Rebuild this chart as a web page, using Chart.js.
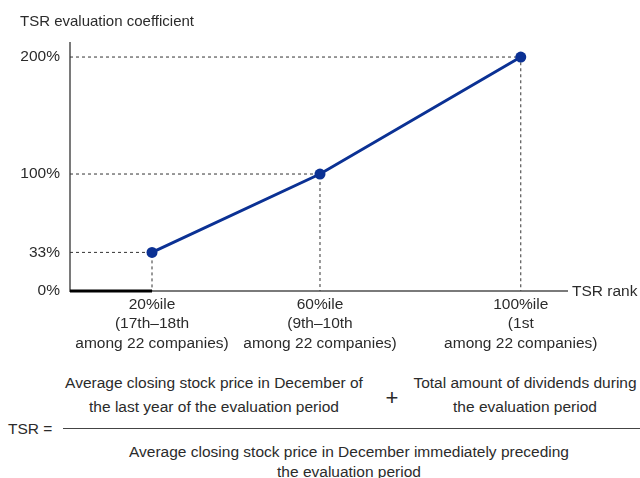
<!DOCTYPE html>
<html>
<head>
<meta charset="utf-8">
<script src="https://cdn.jsdelivr.net/npm/chart.js@4"></script>
<style>
  body { margin: 0; background: #fff; font-family: "Liberation Sans", Arial, sans-serif; color: #2b2b2b; }
  #wrap { position: relative; width: 640px; height: 478px; }
  #chartBox { position: absolute; left: 0; top: 0; width: 640px; height: 360px; }
  .txt { position: absolute; font-size: 15.5px; text-align: center; white-space: nowrap; }
  #tsrEq { left: 8px; top: 419px; line-height: 20px; text-align: left; }
  #fracLine { position: absolute; left: 63px; top: 428px; width: 577px; height: 1px; background: #444; }
  #numLeft { left: 44px; top: 371px; width: 340px; line-height: 24px; }
  #plus { left: 377px; top: 384px; width: 30px; font-size: 22px; line-height: 28px; }
  #numRight { left: 400px; top: 371px; width: 250px; line-height: 24px; }
  #denom { left: 99px; top: 442px; width: 500px; line-height: 20px; }
</style>
</head>
<body>
<div id="wrap">
  <div id="chartBox"><canvas id="myChart" width="640" height="360"></canvas></div>
  <div class="txt" id="numLeft">Average closing stock price in December of<br>the last year of the evaluation period</div>
  <div class="txt" id="plus">+</div>
  <div class="txt" id="numRight">Total amount of dividends during<br>the evaluation period</div>
  <div class="txt" id="tsrEq">TSR =</div>
  <div id="fracLine"></div>
  <div class="txt" id="denom">Average closing stock price in December immediately preceding<br>the evaluation period</div>
</div>
<script>
// TSR rank (percentile) and the evaluation coefficient it earns
let rankPct = [20, 60, 100];
let coefficient = [33, 100, 200];
let rankLabels = [
  ["20%ile", "(17th\u201318th", "among 22 companies)"],
  ["60%ile", "(9th\u201310th", "among 22 companies)"],
  ["100%ile", "(1st", "among 22 companies)"]
];
let yTicks = [0, 33, 100, 200];
// below the 20%ile the coefficient stays at zero
let zeroRank = [0, 20];
let zeroCoef = [0, 0];

let fontFamily = "'Liberation Sans', Arial, sans-serif";
let textColor = "#2b2b2b";
let lineBlue = "#0b3194";

// the rank axis is not evenly spaced, so map it piecewise
const rankStops = [[0, 0], [20, 0.165], [60, 0.503], [100, 0.907], [110, 1]];
function rankToDecimal(v) {
  for (let i = 1; i < rankStops.length; i++) {
    let a = rankStops[i - 1], b = rankStops[i];
    if (v <= b[0] || i === rankStops.length - 1) {
      return a[1] + (v - a[0]) / (b[0] - a[0]) * (b[1] - a[1]);
    }
  }
}
function decimalToRank(d) {
  for (let i = 1; i < rankStops.length; i++) {
    let a = rankStops[i - 1], b = rankStops[i];
    if (d <= b[1] || i === rankStops.length - 1) {
      return a[0] + (d - a[1]) / (b[1] - a[1]) * (b[0] - a[0]);
    }
  }
}

class RankScale extends Chart.LinearScale {
  getPixelForValue(value) {
    if (value === null || value === undefined) return NaN;
    return this.getPixelForDecimal(rankToDecimal(value));
  }
  getValueForPixel(pixel) {
    return decimalToRank(this.getDecimalForPixel(pixel));
  }
}
RankScale.id = "rank";
RankScale.defaults = Chart.LinearScale.defaults;
Chart.register(RankScale);

// dashed guides from every point back to both axes
let guideSets = rankPct.map((r, i) => ({
  data: [{ x: 0, y: coefficient[i] }, { x: r, y: coefficient[i] }, { x: r, y: 0 }],
  borderColor: "#333",
  borderWidth: 1,
  borderDash: [3, 3],
  pointRadius: 0,
  order: 5,
  clip: false
}));

// axis captions drawn next to the plot
let captions = {
  id: "captions",
  afterDraw(chart) {
    let c = chart.ctx;
    let area = chart.chartArea;
    c.save();
    c.fillStyle = textColor;
    c.textBaseline = "middle";
    c.textAlign = "left";
    c.font = "15.5px " + fontFamily;
    c.fillText("TSR rank", area.right + 5, area.bottom + 1);
    c.font = "15px " + fontFamily;
    c.fillText("TSR evaluation coefficient", 20, 22);
    c.restore();
  }
};

let ctx = document.getElementById("myChart").getContext("2d");
let chart = new Chart(ctx, {
  type: "line",
  data: {
    datasets: [
      {
        data: rankPct.map((r, i) => ({ x: r, y: coefficient[i] })),
        borderColor: lineBlue,
        backgroundColor: lineBlue,
        borderWidth: 3,
        pointRadius: 5.5,
        pointBorderWidth: 0,
        tension: 0,
        order: 0,
        clip: false
      },
      {
        data: zeroRank.map((r, i) => ({ x: r, y: zeroCoef[i] })),
        borderColor: "#000",
        borderWidth: 3,
        pointRadius: 0,
        order: 1,
        clip: false
      },
      ...guideSets
    ]
  },
  options: {
    responsive: false,
    animation: false,
    events: [],
    layout: { padding: { top: 43, right: 73, left: 0, bottom: 0 } },
    plugins: { legend: { display: false }, tooltip: { enabled: false } },
    scales: {
      x: {
        type: "rank",
        min: 0,
        max: 110,
        grid: { display: false, drawTicks: false },
        border: { display: true, color: "#7a7a7a", width: 2 },
        afterBuildTicks: scale => { scale.ticks = rankPct.map(v => ({ value: v })); },
        afterFit: scale => { scale.height = 69; },
        ticks: {
          autoSkip: false,
          maxRotation: 0,
          padding: 4,
          color: textColor,
          font: { family: fontFamily, size: 15.5, lineHeight: 1.25 },
          callback: (v, i) => rankLabels[i]
        }
      },
      y: {
        type: "linear",
        min: 0,
        max: 212,
        grid: { display: false, drawTicks: false },
        border: { display: true, color: "#7a7a7a", width: 2 },
        afterBuildTicks: scale => { scale.ticks = yTicks.map(v => ({ value: v })); },
        afterFit: scale => { scale.width = 70; },
        ticks: {
          padding: 10,
          color: textColor,
          font: { family: fontFamily, size: 15.5 },
          callback: v => v + "%"
        }
      }
    }
  },
  plugins: [captions]
});
</script>
</body>
</html>
